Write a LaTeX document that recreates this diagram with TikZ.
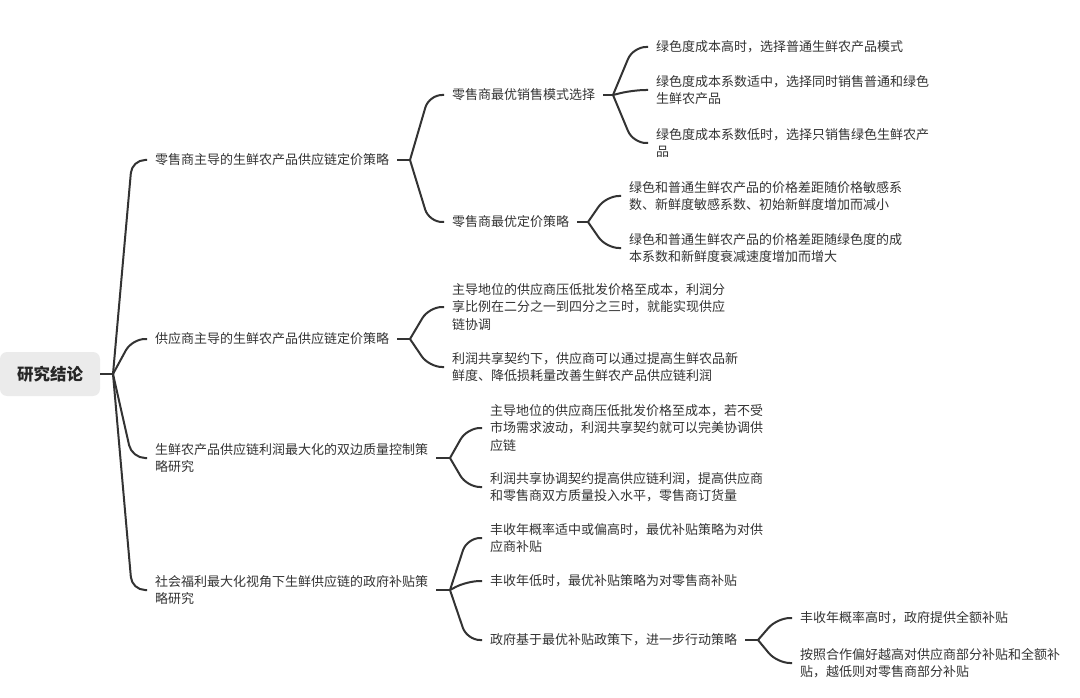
\documentclass[tikz,border=0pt]{standalone}
\usepackage{fontspec}
\newfontfamily\cjk{Noto Sans CJK SC}
\usetikzlibrary{calc}
\definecolor{inkgray}{HTML}{333333}
\definecolor{rootfill}{HTML}{EBEBEB}
\tikzset{
  topic/.style={anchor=west, inner xsep=8pt, inner ysep=2pt, align=left, text=inkgray,
    font=\cjk\fontsize{13}{17.5}\selectfont},
  rootbox/.style={fill=rootfill, rounded corners=7pt, minimum width=100pt, minimum height=44pt,
    text=black!85, font=\cjk\bfseries\fontsize{16.5}{20}\selectfont},
  wire/.style={draw=inkgray, line width=2pt},
  limb/.style={wire, rounded corners=13pt, to path={-- ($(\tikztotarget)+(-15,0)$) -- (\tikztotarget)}},
}
\begin{document}
\begin{tikzpicture}[x=1pt, y=-1pt]
  \useasboundingbox (0,0) rectangle (1080,698);

  % root
  \node[rootbox] (root) at (50,374) {研究结论};
  \coordinate (t0) at (113,374);

  % level 1
  \node[topic] (A) at (147,160) {零售商主导的生鲜农产品供应链定价策略};
  \node[topic] (B) at (147,339) {供应商主导的生鲜农产品供应链定价策略};
  \node[topic] (C) at (147,458) {生鲜农产品供应链利润最大化的双边质量控制策\\略研究};
  \node[topic] (D) at (147,590) {社会福利最大化视角下生鲜供应链的政府补贴策\\略研究};

  % level 2
  \node[topic] (A1) at (444,95) {零售商最优销售模式选择};
  \node[topic] (A2) at (444,222) {零售商最优定价策略};
  \node[topic] (B1) at (444,307) {主导地位的供应商压低批发价格至成本，利润分\\享比例在二分之一到四分之三时，就能实现供应\\链协调};
  \node[topic] (B2) at (444,367) {利润共享契约下，供应商可以通过提高生鲜农品新\\鲜度、降低损耗量改善生鲜农产品供应链利润};
  \node[topic] (C1) at (482,428) {主导地位的供应商压低批发价格至成本，若不受\\市场需求波动，利润共享契约就可以完美协调供\\应链};
  \node[topic] (C2) at (482,487) {利润共享协调契约提高供应链利润，提高供应商\\和零售商双方质量投入水平，零售商订货量};
  \node[topic] (D1) at (482,538) {丰收年概率适中或偏高时，最优补贴策略为对供\\应商补贴};
  \node[topic] (D2) at (482,581) {丰收年低时，最优补贴策略为对零售商补贴};
  \node[topic] (D3) at (482,640) {政府基于最优补贴政策下，进一步行动策略};

  % level 3
  \node[topic] (A1a) at (648,47) {绿色度成本高时，选择普通生鲜农产品模式};
  \node[topic] (A1b) at (648,90) {绿色度成本系数适中，选择同时销售普通和绿色\\生鲜农产品};
  \node[topic] (A1c) at (648,143) {绿色度成本系数低时，选择只销售绿色生鲜农产\\品};
  \node[topic] (A2a) at (621,196) {绿色和普通生鲜农产品的价格差距随价格敏感系\\数、新鲜度敏感系数、初始新鲜度增加而减小};
  \node[topic] (A2b) at (621,248) {绿色和普通生鲜农产品的价格差距随绿色度的成\\本系数和新鲜度衰减速度增加而增大};
  \node[topic] (D3a) at (792,618) {丰收年概率高时，政府提供全额补贴};
  \node[topic] (D3b) at (792,663) {按照合作偏好越高对供应商部分补贴和全额补\\贴，越低则对零售商部分补贴};

  % branch points
  \coordinate (bA) at (410,160);
  \coordinate (bB) at (410,339);
  \coordinate (bC) at (450,458);
  \coordinate (bD) at (450,590);
  \coordinate (bA1) at (613,95);
  \coordinate (bA2) at (588,222);
  \coordinate (bD3) at (758,640);

  % stubs
  \draw[wire] (root.east) -- (t0);
  \draw[wire] (A.east) -- (bA);
  \draw[wire] (B.east) -- (bB);
  \draw[wire] (C.east) -- (bC);
  \draw[wire] (D.east) -- (bD);
  \draw[wire] (A1.east) -- (bA1);
  \draw[wire] (A2.east) -- (bA2);
  \draw[wire] (D3.east) -- (bD3);

  % links
  \foreach \kid in {A,B,C,D} \draw[limb] (t0) to (\kid.west);
  \foreach \kid in {A1,A2} \draw[limb] (bA) to (\kid.west);
  \foreach \kid in {B1,B2} \draw[limb] (bB) to (\kid.west);
  \foreach \kid in {C1,C2} \draw[limb] (bC) to (\kid.west);
  \foreach \kid in {D1,D2,D3} \draw[limb] (bD) to (\kid.west);
  \foreach \kid in {A1a,A1b,A1c} \draw[limb] (bA1) to (\kid.west);
  \foreach \kid in {A2a,A2b} \draw[limb] (bA2) to (\kid.west);
  \foreach \kid in {D3a,D3b} \draw[limb] (bD3) to (\kid.west);
\end{tikzpicture}
\end{document}
